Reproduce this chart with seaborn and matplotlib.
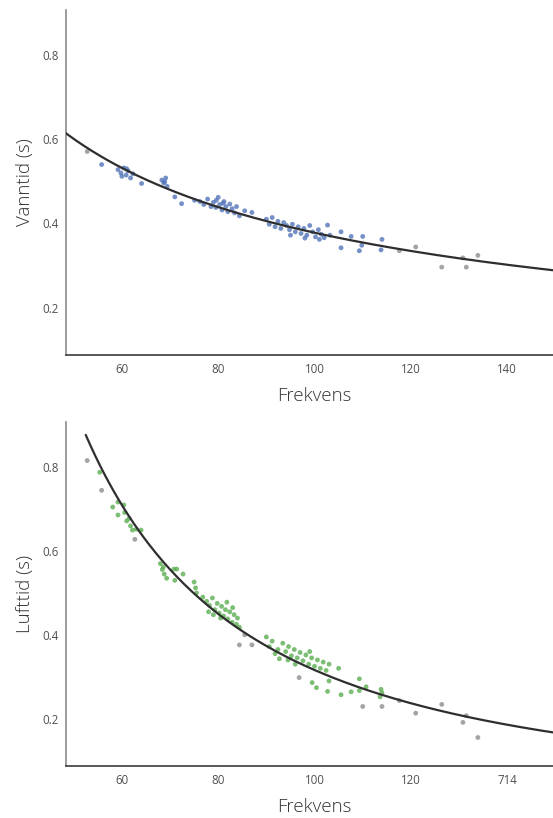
import numpy as np
import pandas as pd
import matplotlib
matplotlib.use("Agg")
import matplotlib.pyplot as plt
import seaborn as sns

# ---- Vanntid (water time) vs frequency ----
vann_freq = [55.8, 59.2, 59.8, 60.4, 60.9, 61.3, 61.8, 62.3, 61.0, 60.0,
             64.1, 68.3, 68.7, 69.1, 69.4, 68.9, 71.0, 72.4, 75.1,
             76.2, 77.0, 77.8, 78.5, 79.0, 79.5, 80.0, 80.3, 80.8, 81.2,
             81.6, 82.0, 82.4, 82.9, 83.4, 83.8, 84.4, 85.5, 79.6, 81.0,
             87.0, 90.0, 90.6, 91.2, 91.8, 92.4, 93.0, 93.6, 94.2, 94.8,
             95.4, 96.0, 96.6, 97.2, 97.8, 98.4, 99.0, 99.6, 100.2, 100.8,
             101.4, 102.0, 102.7, 103.2, 95.0, 98.0, 101.0,
             105.5, 105.5, 107.6, 109.3, 110.0, 109.8, 113.8, 114.0]
vann_tid = [0.540, 0.528, 0.520, 0.532, 0.515, 0.525, 0.508, 0.518, 0.530, 0.512,
            0.495, 0.503, 0.496, 0.508, 0.488, 0.499, 0.463, 0.447, 0.455,
            0.452, 0.445, 0.458, 0.440, 0.450, 0.438, 0.462, 0.445, 0.432, 0.452,
            0.440, 0.428, 0.446, 0.435, 0.425, 0.440, 0.418, 0.430, 0.455, 0.448,
            0.426, 0.410, 0.398, 0.414, 0.392, 0.405, 0.388, 0.402, 0.395, 0.385,
            0.398, 0.380, 0.392, 0.376, 0.388, 0.372, 0.395, 0.380, 0.368, 0.385,
            0.374, 0.366, 0.396, 0.372, 0.372, 0.365, 0.362,
            0.380, 0.342, 0.369, 0.335, 0.369, 0.348, 0.337, 0.362]
vann_freq_tail = [52.8, 117.6, 121.0, 126.4, 130.8, 131.5, 133.9]
vann_tid_tail = [0.571, 0.335, 0.344, 0.296, 0.318, 0.296, 0.324]

# ---- Lufttid (air time) vs frequency ----
luft_freq = [55.4, 58.1, 59.2, 60.4, 60.6, 59.2, 61.0, 61.8, 62.2, 63.0, 64.0, 61.5,
             68.0, 68.4, 68.8, 69.3, 68.6, 71.0, 70.8, 71.4, 72.7, 75.0, 75.3, 75.5,
             76.8, 77.6, 78.2, 78.8, 79.3, 79.8, 80.2, 80.7, 81.1, 81.5, 82.0, 82.4,
             82.9, 83.3, 83.8, 84.4, 79.0, 80.5, 81.8, 78.0, 83.0, 84.0,
             90.0, 90.6, 91.2, 91.8, 92.4, 92.7, 93.4, 94.0, 94.6, 95.2, 95.8, 96.4,
             97.0, 97.6, 98.2, 98.8, 99.4, 100.0, 100.6, 101.2, 101.8, 102.4, 103.0,
             99.0, 96.0, 94.5,
             99.5, 100.4, 102.7, 103.0, 105.0, 105.5, 107.6, 109.3, 109.3, 110.7,
             113.8, 114.0, 113.6]
luft_tid = [0.788, 0.705, 0.717, 0.710, 0.692, 0.686, 0.672, 0.660, 0.650, 0.652, 0.650, 0.678,
            0.570, 0.556, 0.545, 0.535, 0.562, 0.530, 0.557, 0.557, 0.545, 0.526, 0.512, 0.500,
            0.490, 0.480, 0.470, 0.488, 0.460, 0.475, 0.452, 0.468, 0.445, 0.460, 0.438, 0.455,
            0.430, 0.448, 0.425, 0.418, 0.448, 0.440, 0.478, 0.455, 0.465, 0.440,
            0.395, 0.372, 0.385, 0.355, 0.365, 0.343, 0.380, 0.360, 0.372, 0.350, 0.365, 0.345,
            0.358, 0.338, 0.352, 0.330, 0.345, 0.325, 0.340, 0.320, 0.335, 0.315, 0.330,
            0.360, 0.330, 0.340,
            0.286, 0.274, 0.265, 0.290, 0.320, 0.257, 0.264, 0.295, 0.267, 0.276,
            0.270, 0.262, 0.252]
luft_freq_tail = [52.8, 55.8, 62.7, 84.4, 87.0, 85.5, 96.8, 110.0, 114.0, 117.6,
                  121.0, 126.4, 130.8, 131.5, 133.9]
luft_tid_tail = [0.816, 0.745, 0.628, 0.376, 0.376, 0.400, 0.298, 0.229, 0.229, 0.243,
                 0.213, 0.234, 0.191, 0.207, 0.155]

x_ticks = [60, 80, 100, 120, 140]
x_ticklabels_top = ["60", "80", "100", "120", "140"]
x_ticklabels_bottom = ["60", "80", "100", "120", "714"]
y_ticks = [0.2, 0.4, 0.6, 0.8]
y_ticklabels = ["0.2", "0.4", "0.6", "0.8"]

sns.set_theme(style="white")
plt.rcParams["font.family"] = ["Open Sans", "DejaVu Sans"]

BLUE = "#5275b8"
GREEN = "#5cae52"
GREY = "#8e8e8e"
LINE = "#2e2e2e"


def frame(freq, tid, freq_tail, tid_tail):
    main = pd.DataFrame({"Frekvens": freq, "Tid": tid, "gruppe": "main"})
    tail = pd.DataFrame({"Frekvens": freq_tail, "Tid": tid_tail, "gruppe": "tail"})
    return pd.concat([main, tail], ignore_index=True)


def power_fit(df, x_from, x_to):
    # least-squares power law  t = a * f^b, fitted in log-log space
    b, log_a = np.polyfit(np.log(df["Frekvens"]), np.log(df["Tid"]), 1)
    xs = np.linspace(x_from, x_to, 200)
    return pd.DataFrame({"Frekvens": xs, "Tid": np.exp(log_a) * xs ** b})


def draw(ax, df, color, fit, ylabel, xticklabels, xlabel_y):
    sns.scatterplot(data=df, x="Frekvens", y="Tid", hue="gruppe",
                    palette={"main": color, "tail": GREY}, s=12, alpha=0.8,
                    edgecolor="none", legend=False, ax=ax, zorder=2)
    sns.lineplot(data=fit, x="Frekvens", y="Tid", color=LINE, lw=1.6,
                 ax=ax, zorder=3)
    ax.set_xlim(48.4, 149.5)
    ax.set_ylim(0.087, 0.908)
    ax.set_xticks(x_ticks)
    ax.set_xticklabels(xticklabels)
    ax.set_yticks(y_ticks)
    ax.set_yticklabels(y_ticklabels)
    ax.tick_params(axis="both", length=0, labelsize=8.3, labelcolor="#505050")
    ax.tick_params(axis="x", pad=6)
    ax.tick_params(axis="y", pad=5)
    for side in ("top", "right"):
        ax.spines[side].set_visible(False)
    ax.spines["left"].set_color("#8a8a8a")
    ax.spines["left"].set_linewidth(1.2)
    ax.spines["bottom"].set_color("#3a3a3a")
    ax.spines["bottom"].set_linewidth(1.2)
    ax.set_xlabel("Frekvens", fontsize=13.5, color="#333333", fontweight=300)
    ax.set_ylabel(ylabel, fontsize=13.5, color="#333333", fontweight=300)
    ax.yaxis.set_label_coords(-0.066, 0.5)
    ax.xaxis.set_label_coords(0.51, xlabel_y)
    ax.grid(False)


fig = plt.figure(figsize=(5.53, 8.18), dpi=100)
ax_top = fig.add_axes([0.1193, 0.566, 0.8807, 0.422])
ax_bot = fig.add_axes([0.1193, 0.0636, 0.8807, 0.4205])

vann = frame(vann_freq, vann_tid, vann_freq_tail, vann_tid_tail)
luft = frame(luft_freq, luft_tid, luft_freq_tail, luft_tid_tail)

draw(ax_top, vann, BLUE, power_fit(vann, 44, 152), "Vanntid (s)",
     x_ticklabels_top, -0.092)
draw(ax_bot, luft, GREEN, power_fit(luft, 52.5, 152), "Lufttid (s)",
     x_ticklabels_bottom, -0.094)

fig.savefig("out.png", dpi=100)
